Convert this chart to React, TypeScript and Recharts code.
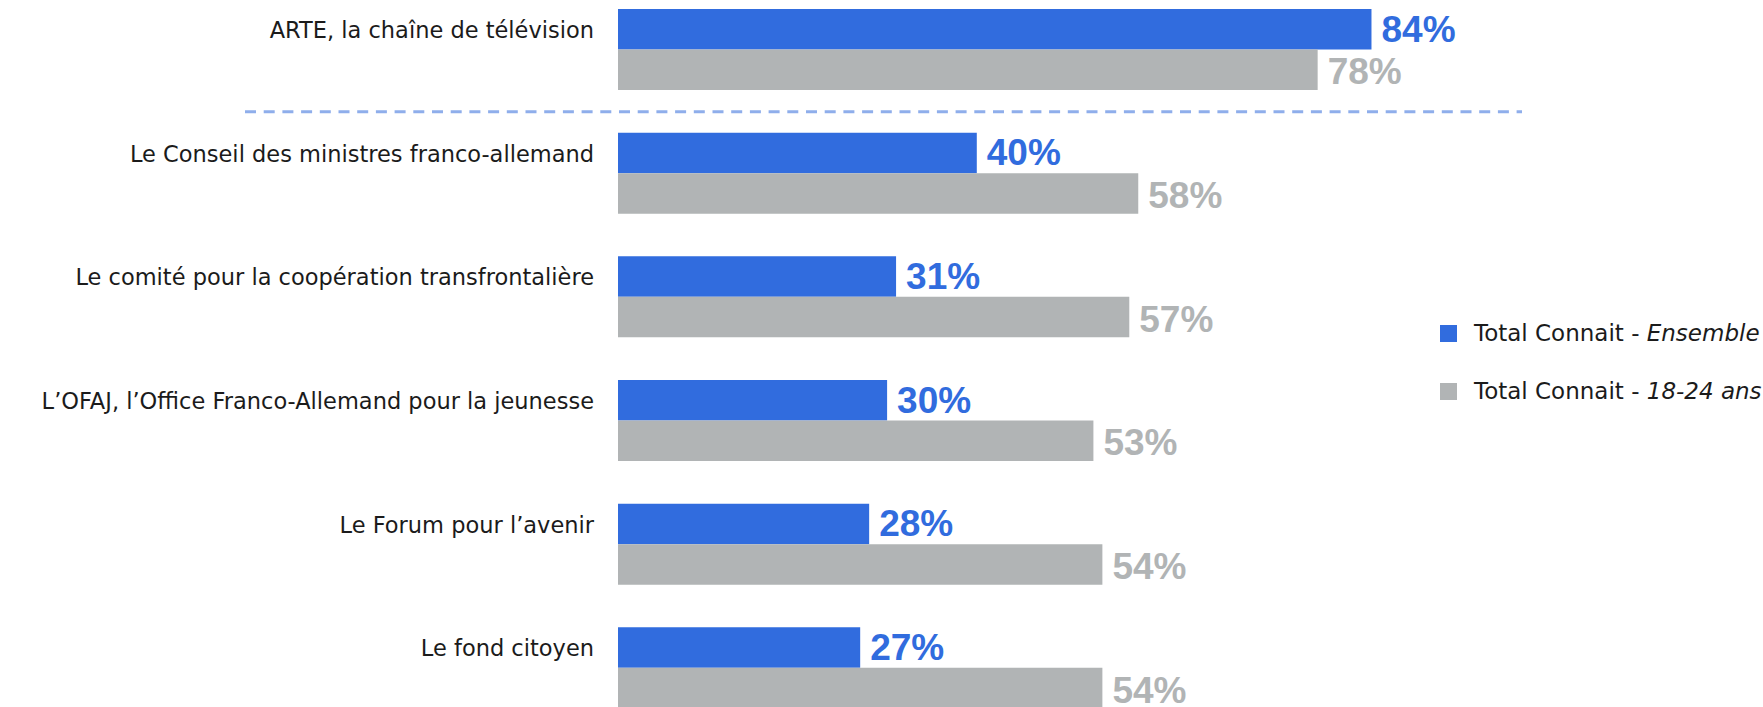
import React from "react";
import { BarChart, Bar, XAxis, YAxis, LabelList, ReferenceLine, Legend } from "recharts";

const categories = [
  "ARTE, la chaîne de télévision",
  "Le Conseil des ministres franco-allemand",
  "Le comité pour la coopération transfrontalière",
  "L’OFAJ, l’Office Franco-Allemand pour la jeunesse",
  "Le Forum pour l’avenir",
  "Le fond citoyen",
];
const ensembleValues = [84, 40, 31, 30, 28, 27];
const jeunesValues = [78, 58, 57, 53, 54, 54];
const seriesNames = ["Total Connait - ", "Total Connait - "];
const seriesItalic = ["Ensemble", "18-24 ans"];

const BLUE = "#316CDE";
const GREY = "#B1B4B5";
const LABEL_FONT = "'DejaVu Sans', sans-serif";
const VALUE_FONT = "'Liberation Sans', Arial, sans-serif";

const data = categories.map((name, i) => ({
  name,
  ensemble: ensembleValues[i],
  jeunes: jeunesValues[i],
}));

const CategoryTick = (props: any) => {
  const { x, y, payload } = props;
  return (
    <text
      x={x}
      y={y - 20}
      textAnchor="end"
      dominantBaseline="central"
      fontFamily={LABEL_FONT}
      fontSize={22.5}
      fill="#1b1b1b"
    >
      {payload.value}
    </text>
  );
};

const makeValueLabel = (color: string, dy: number) => (props: any) => {
  const { x, y, width, height, value } = props;
  return (
    <text
      x={x + width + 10}
      y={y + height / 2 + dy}
      dominantBaseline="central"
      fontFamily={VALUE_FONT}
      fontWeight="bold"
      fontSize={37}
      fill={color}
    >
      {value}%
    </text>
  );
};

const LegendContent = () => {
  const colors = [BLUE, GREY];
  return (
    <div style={{ display: "flex", flexDirection: "column" }}>
      {seriesNames.map((n, i) => (
        <div key={i} style={{ display: "flex", alignItems: "center", height: 58 }}>
          <div style={{ width: 17, height: 17, background: colors[i], marginRight: 17, flexShrink: 0 }} />
          <span style={{ fontFamily: LABEL_FONT, fontSize: 23, color: "#1b1b1b", whiteSpace: "nowrap" }}>
            {n}
            <i>{seriesItalic[i]}</i>
          </span>
        </div>
      ))}
    </div>
  );
};

const DashedShape = (p: any) => (
  <line
    x1={p.x1 - 373}
    y1={p.y1}
    x2={p.x2 + 7}
    y2={p.y2}
    stroke="#8FAEEB"
    strokeWidth={3}
    strokeDasharray="11 7.7"
  />
);

export default function App() {
  return (
    <div
      style={{
        position: "absolute",
        left: 0,
        top: 0,
        width: 1763,
        height: 707,
        overflow: "hidden",
        background: "#fff",
      }}
    >
      <div style={{ marginTop: -12 }}>
        <BarChart
          width={1763}
          height={742}
          data={data}
          layout="vertical"
          margin={{ top: 0, right: 248, bottom: 0, left: 0 }}
          barGap={0}
          barSize={40.5}
        >
          <XAxis type="number" domain={[0, 100]} hide />
          <YAxis
            type="category"
            dataKey="name"
            width={618}
            axisLine={false}
            tickLine={false}
            tickMargin={18}
            interval={0}
            tick={<CategoryTick />}
          />
          <ReferenceLine
            y={categories[0]}
            position="end"
            shape={DashedShape}
          />
          <Bar dataKey="ensemble" fill={BLUE} isAnimationActive={false}>
            <LabelList dataKey="ensemble" content={makeValueLabel(BLUE, 0)} />
          </Bar>
          <Bar dataKey="jeunes" fill={GREY} isAnimationActive={false}>
            <LabelList dataKey="jeunes" content={makeValueLabel(GREY, 2)} />
          </Bar>
          <Legend
            layout="horizontal"
            align="center"
            verticalAlign="middle"
            content={<LegendContent />}
            wrapperStyle={{ position: "absolute", left: 1440, top: 316, width: 323 }}
          />
        </BarChart>
      </div>
    </div>
  );
}
